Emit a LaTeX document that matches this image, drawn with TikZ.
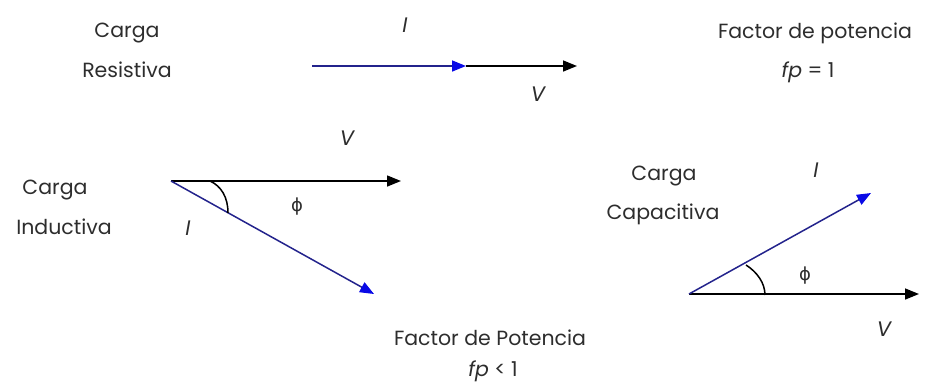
\documentclass[tikz,border=0pt]{standalone}
\usepackage{fontspec}
\setmainfont{Poppins}
\newfontfamily\grk{DejaVu Sans}
\usetikzlibrary{arrows.meta}
\definecolor{txt}{RGB}{45,45,45}
\definecolor{iline}{RGB}{35,35,140}
\definecolor{itip}{RGB}{10,10,230}
\tikzset{
  lbl/.style={text=txt,font=\fontsize{20.5}{24}\selectfont,inner sep=0pt,align=center},
  vlbl/.style={text=txt,font=\fontsize{21}{24}\selectfont\itshape,inner sep=0pt},
  phil/.style={text=txt,font=\fontsize{18}{20}\selectfont\grk,inner sep=0pt},
  vvec/.style={draw=black,line width=1.5pt,-{Triangle[length=14pt,width=11pt]}},
  ivec/.style={draw=iline,line width=1.5pt,-{Triangle[length=14pt,width=11pt,color=itip]}},
  anglearc/.style={draw=black,line width=1.5pt}
}
\begin{document}
\begin{tikzpicture}[x=1pt,y=-1pt]
\useasboundingbox (0,0) rectangle (925,384);
% --- resistive
\node[lbl] (cr1) at (127,33) {Carga};
\node[lbl] (cr2) at (127,70) {Resistiva};
\coordinate (r0) at (312,66);
\coordinate (ri) at (466,66);
\coordinate (rv) at (577,66);
\draw[vvec] (ri) -- (rv);
\draw[ivec] (r0) -- (ri);
\node[vlbl] (rI) at (405,25) {I};
\node[vlbl] (rV) at (538,94) {V};
\node[lbl] (fp1a) at (815,33) {Factor de potencia};
\node[lbl] (fp1b) at (808,72) {\textit{fp} = 1};
% --- inductive
\node[lbl] (ci1) at (55,190) {Carga};
\node[lbl] (ci2) at (64,227) {Inductiva};
\coordinate (l0) at (171,181);
\coordinate (lv) at (401,181);
\coordinate (li) at (374,294);
\draw[vvec] (l0) -- (lv);
\draw[ivec] (l0) -- (li);
\coordinate (la1) at (210,181);
\coordinate (la2) at (228,213);
\draw[anglearc] (la1) .. controls (221,186) and (228,197) .. (la2);
\node[vlbl] (lV) at (347,138) {V};
\node[vlbl] (lI) at (188,228) {I};
\node[phil] (lphi) at (297,207) {ϕ};
% --- capacitive
\node[lbl] (cc1) at (664,176) {Carga};
\node[lbl] (cc2) at (663,214) {Capacitiva};
\coordinate (c0) at (689,294);
\coordinate (cv) at (919,294);
\coordinate (ci) at (871,193);
\draw[vvec] (c0) -- (cv);
\draw[ivec] (c0) -- (ci);
\coordinate (ca1) at (746,265);
\coordinate (ca2) at (765,295);
\draw[anglearc] (ca1) .. controls (757,272) and (765,283) .. (ca2);
\node[vlbl] (cI) at (816,170) {I};
\node[vlbl] (cV) at (884,329) {V};
\node[phil] (cphi) at (805,276) {ϕ};
% --- bottom
\node[lbl] (fp2a) at (490,338) {Factor de Potencia};
\node[lbl] (fp2b) at (493,371) {\textit{fp} < 1};
\end{tikzpicture}
\end{document}
